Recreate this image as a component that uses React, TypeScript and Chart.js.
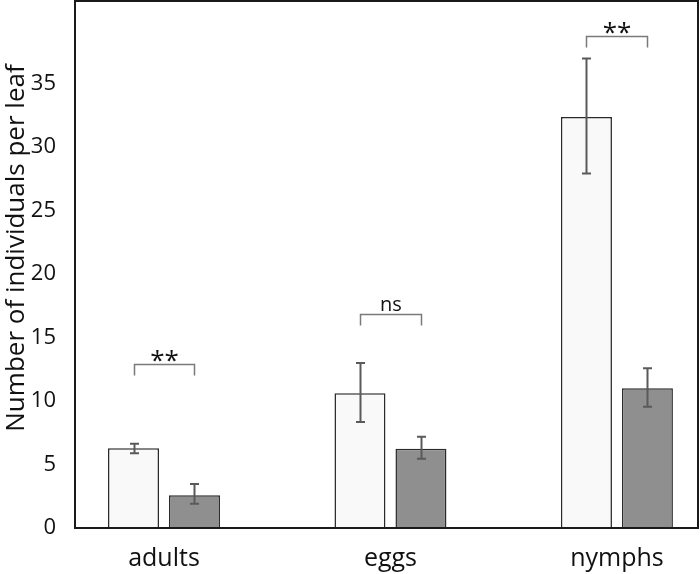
import React, { useEffect, useRef } from 'react';
import { Chart, registerables } from 'chart.js';

Chart.register(...registerables);

const categories = ['adults', 'eggs', 'nymphs'];
const categoryPositions = [0, 1, 2];
const controlMeans = [6.28, 10.61, 32.36];
const controlErrHigh = [0.36, 2.39, 4.62];
const controlErrLow = [0.39, 2.26, 4.44];
const treatedMeans = [2.58, 6.25, 11.01];
const treatedErrHigh = [0.89, 0.94, 1.57];
const treatedErrLow = [0.67, 0.79, 1.47];
const yTicks = [0, 5, 10, 15, 20, 25, 30, 35];
const sigLabels = ['**', 'ns', '**'];
const sigLevels = [12.95, 16.89, 38.72];
const yTitle = 'Number of individuals per leaf';

const FONT = "'Open Sans', 'Noto Sans', sans-serif";

const overlay = {
  id: 'overlay',
  afterDraw(chart: any) {
    const ctx = chart.ctx;
    ctx.save();
    ctx.translate(17, 248);
    ctx.rotate(-Math.PI / 2);
    ctx.fillStyle = '#111';
    ctx.font = `26px ${FONT}`;
    ctx.textAlign = 'center';
    ctx.textBaseline = 'middle';
    ctx.fillText(yTitle, 0, 0);
    ctx.restore();
  },
  afterDatasetsDraw(chart: any) {
    const ctx = chart.ctx;
    const ys = chart.scales.y;
    const ca = chart.chartArea;
    const series = [
      [controlMeans, controlErrHigh, controlErrLow],
      [treatedMeans, treatedErrHigh, treatedErrLow],
    ];
    ctx.save();
    // error bars
    ctx.strokeStyle = '#5a5a5a';
    ctx.lineWidth = 2;
    series.forEach(([m, hi, lo], di) => {
      const meta = chart.getDatasetMeta(di);
      meta.data.forEach((bar: any, i: number) => {
        const x = Math.round(bar.x) + 0.5;
        const yt = ys.getPixelForValue(m[i] + hi[i]);
        const yb = ys.getPixelForValue(m[i] - lo[i]);
        ctx.beginPath();
        ctx.moveTo(x, yt);
        ctx.lineTo(x, yb);
        ctx.moveTo(x - 4.5, yt);
        ctx.lineTo(x + 4.5, yt);
        ctx.moveTo(x - 4.5, yb);
        ctx.lineTo(x + 4.5, yb);
        ctx.stroke();
      });
    });
    // significance brackets
    const m0 = chart.getDatasetMeta(0);
    const m1 = chart.getDatasetMeta(1);
    sigLabels.forEach((lab, i) => {
      const x0 = Math.round(m0.data[i].x) + 0.5;
      const x1 = Math.round(m1.data[i].x) + 0.5;
      const yl = Math.round(ys.getPixelForValue(sigLevels[i])) + 0.5;
      ctx.strokeStyle = '#7a7a7a';
      ctx.lineWidth = 1.5;
      ctx.beginPath();
      ctx.moveTo(x0, yl + 11);
      ctx.lineTo(x0, yl);
      ctx.lineTo(x1, yl);
      ctx.lineTo(x1, yl + 11);
      ctx.stroke();
      ctx.fillStyle = '#111';
      ctx.textAlign = 'center';
      ctx.textBaseline = 'alphabetic';
      if (lab === 'ns') {
        ctx.font = `20px ${FONT}`;
        ctx.fillText(lab, (x0 + x1) / 2, yl - 4);
      } else {
        ctx.font = `26px ${FONT}`;
        ctx.fillText(lab, (x0 + x1) / 2, yl + 4);
      }
    });
    // frame
    ctx.strokeStyle = '#1a1a1a';
    ctx.lineWidth = 2;
    ctx.strokeRect(ca.left, ca.top, ca.right - ca.left, ca.bottom - ca.top);
    ctx.restore();
  },
};

export default function App() {
  const ref = useRef<HTMLCanvasElement>(null);
  useEffect(() => {
    if (!ref.current) return;
    const chart = new Chart(ref.current, {
      type: 'bar',
      data: {
        datasets: [
          {
            label: 'control',
            data: categoryPositions.map((x, i) => ({ x, y: controlMeans[i] })),
            backgroundColor: '#f9f9f9',
            borderColor: '#2a2a2a',
            borderWidth: 1.5,
            categoryPercentage: 0.5386,
            barPercentage: 0.836,
          },
          {
            label: 'treated',
            data: categoryPositions.map((x, i) => ({ x, y: treatedMeans[i] })),
            backgroundColor: '#8f8f8f',
            borderColor: '#2a2a2a',
            borderWidth: 1.5,
            categoryPercentage: 0.5386,
            barPercentage: 0.836,
          },
        ],
      },
      options: {
        responsive: false,
        animation: false,
        layout: { padding: { top: 1, right: 2, left: 0, bottom: 0 } },
        plugins: { legend: { display: false }, tooltip: { enabled: false } },
        scales: {
          x: {
            type: 'linear',
            offset: false,
            min: -0.393,
            max: 2.358,
            grid: { display: false, offset: false },
            border: { display: false },
            afterBuildTicks: (scale: any) => {
              scale.ticks = categoryPositions.map((v) => ({ value: v }));
            },
            afterFit: (scale: any) => {
              scale.height = 46;
              scale.paddingLeft = 0;
              scale.paddingRight = 0;
            },
            ticks: {
              autoSkip: false,
              maxRotation: 0,
              padding: 8,
              color: '#111',
              font: { family: FONT, size: 25 },
              callback: (v: any) => categories[Math.round(Number(v))] ?? '',
            },
          },
          y: {
            min: 0,
            max: 41.5,
            grid: { display: false },
            border: { display: false },
            afterBuildTicks: (scale: any) => {
              scale.ticks = yTicks.map((v) => ({ value: v }));
            },
            afterFit: (scale: any) => {
              scale.width = 75;
              scale.paddingTop = 0;
              scale.paddingBottom = 0;
            },
            ticks: {
              padding: 11,
              color: '#111',
              font: { family: FONT, size: 22 },
            },
          },
        },
      },
      plugins: [overlay],
    });
    return () => chart.destroy();
  }, []);
  return (
    <div style={{ position: 'fixed', left: 0, top: 0, width: 700, height: 574, background: '#fff' }}>
      <canvas ref={ref} width={700} height={574} style={{ display: 'block' }} />
    </div>
  );
}
